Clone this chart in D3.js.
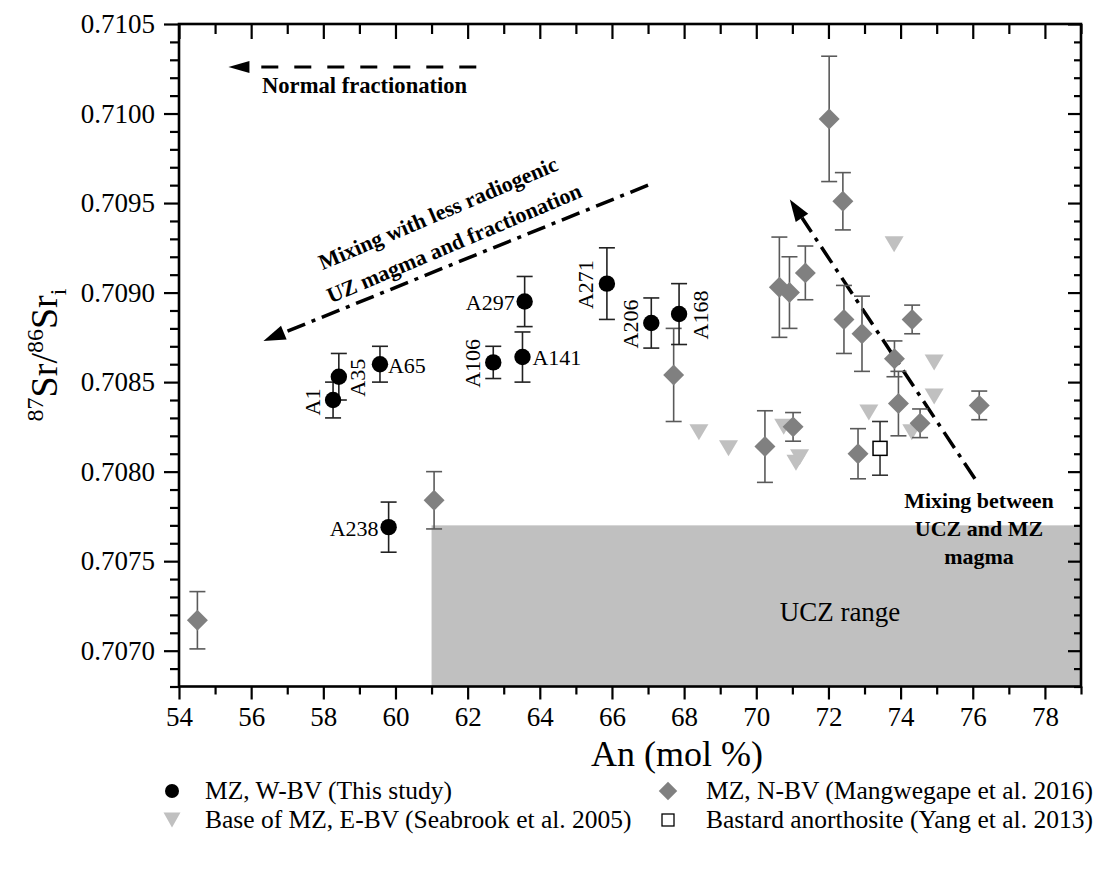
<!DOCTYPE html>
<html><head><meta charset="utf-8">
<script src="https://cdn.jsdelivr.net/npm/d3@7"></script>
<style>body{margin:0;background:#fff}svg{display:block}</style>
</head><body>
<svg id="chart" width="1105" height="876"></svg>
<script>
// ---------- data ----------
const wbvLabels = ["A1","A35","A65","A238","A106","A141","A297","A271","A206","A168"];
const wbvAn  = [58.27, 58.43, 59.57, 59.81, 62.71, 63.52, 63.58, 65.86, 67.09, 67.86];
const wbvSr  = [0.70840, 0.70853, 0.70860, 0.70769, 0.70861, 0.70864, 0.70895, 0.70905, 0.70883, 0.70888];
const wbvErr = [0.00010, 0.00013, 0.00010, 0.00014, 0.00009, 0.00014, 0.00014, 0.00020, 0.00014, 0.00017];

const nbvAn  = [54.51, 61.07, 67.71, 70.24, 70.64, 70.92, 71.02, 71.36, 72.02, 72.40, 72.43, 72.82, 72.93, 73.83, 73.94, 74.32, 74.54, 76.18];
const nbvSr  = [0.70717, 0.70784, 0.70854, 0.70814, 0.70903, 0.70900, 0.70825, 0.70911, 0.70997, 0.70951, 0.70885, 0.70810, 0.70877, 0.70863, 0.70838, 0.70885, 0.70827, 0.70837];
const nbvErr = [0.00016, 0.00016, 0.00026, 0.00020, 0.00028, 0.00020, 0.00008, 0.00015, 0.00035, 0.00016, 0.00019, 0.00014, 0.00021, 0.00010, 0.00018, 0.00008, 0.00008, 0.00008];

const ebvAn = [68.41, 69.23, 70.76, 71.10, 71.20, 73.12, 73.82, 74.31, 74.93, 74.93];
const ebvSr = [0.70822, 0.70813, 0.70825, 0.70805, 0.70808, 0.70833, 0.70927, 0.70822, 0.70861, 0.70842];

const bastAn  = [73.43];
const bastSr  = [0.70813];
const bastErr = [0.00015];

const uczRange = {anMin: 61, anMax: 79, srMax: 0.7077};

const xTicks = [54,56,58,60,62,64,66,68,70,72,74,76,78];
const xMinor = [55,57,59,61,63,65,67,69,71,73,75,77,79];
const yTicks = [0.7070,0.7075,0.7080,0.7085,0.7090,0.7095,0.7100,0.7105];
const yMinor = [0.7068,0.7069,0.7071,0.7072,0.7073,0.7074,0.7076,0.7077,0.7078,0.7079,0.7081,0.7082,0.7083,0.7084,0.7086,0.7087,0.7088,0.7089,0.7091,0.7092,0.7093,0.7094,0.7096,0.7097,0.7098,0.7099,0.7101,0.7102,0.7103,0.7104];

const legendLabels = ["MZ, W-BV (This study)","MZ, N-BV (Mangwegape et al. 2016)","Base of MZ, E-BV (Seabrook et al. 2005)","Bastard anorthosite (Yang et al. 2013)"];

// ---------- layout ----------
const FONT = "'Liberation Serif','Times New Roman',serif";
const L = 179, R = 1081, T = 24, B = 686.5;
const svg = d3.select("#chart");
const x = d3.scaleLinear().domain([54,79]).range([L,R]);
const y = d3.scaleLinear().domain([0.7068,0.7105]).range([B,T]);

// UCZ range
svg.append("rect")
  .attr("x", x(uczRange.anMin)).attr("y", y(uczRange.srMax))
  .attr("width", x(uczRange.anMax)-x(uczRange.anMin))
  .attr("height", y(0.7068)-y(uczRange.srMax))
  .attr("fill", "#c0c0c0");
svg.append("text").attr("x", 840).attr("y", 621).attr("text-anchor","middle")
  .attr("font-family", FONT).attr("font-size", 27).text("UCZ range");

// axes
function styleAxis(g){ g.select(".domain").remove(); g.selectAll("line").attr("stroke","#000").attr("stroke-width",2.2); }
svg.append("g").attr("transform",`translate(${L},0)`)
  .call(d3.axisLeft(y).tickValues(yTicks).tickFormat(d3.format(".4f")).tickSize(15).tickPadding(9))
  .call(styleAxis).selectAll("text").attr("font-family",FONT).attr("font-size",27).attr("fill","#000");
svg.append("g").attr("transform",`translate(${L},0)`)
  .call(d3.axisLeft(y).tickValues(yMinor).tickFormat("").tickSize(9)).call(styleAxis);
svg.append("g").attr("transform",`translate(${R},0)`)
  .call(d3.axisRight(y).tickValues(yTicks).tickFormat("").tickSize(-13)).call(styleAxis);
svg.append("g").attr("transform",`translate(${R},0)`)
  .call(d3.axisRight(y).tickValues(yMinor).tickFormat("").tickSize(-7)).call(styleAxis);
svg.append("g").attr("transform",`translate(0,${B})`)
  .call(d3.axisBottom(x).tickValues(xTicks).tickFormat(d3.format("d")).tickSize(13).tickPadding(7))
  .call(styleAxis).selectAll("text").attr("font-family",FONT).attr("font-size",27).attr("fill","#000");
svg.append("g").attr("transform",`translate(0,${B})`)
  .call(d3.axisBottom(x).tickValues(xMinor).tickFormat("").tickSize(8)).call(styleAxis);
svg.append("g").attr("transform",`translate(0,${T})`)
  .call(d3.axisTop(x).tickValues(xTicks).tickFormat("").tickSize(-15)).call(styleAxis);
svg.append("g").attr("transform",`translate(0,${T})`)
  .call(d3.axisTop(x).tickValues(xMinor).tickFormat("").tickSize(-10)).call(styleAxis);
svg.append("rect").attr("x",L).attr("y",T).attr("width",R-L).attr("height",B-T)
  .attr("fill","none").attr("stroke","#000").attr("stroke-width",2.6);

// axis titles
svg.append("text").attr("x",677).attr("y",766).attr("text-anchor","middle")
  .attr("font-family",FONT).attr("font-size",36).text("An (mol %)");
const yl = svg.append("text").attr("transform","translate(57,355) rotate(-90)")
  .attr("text-anchor","middle").attr("font-family",FONT).attr("font-size",38);
yl.append("tspan").attr("font-size",24).attr("dy",-14).text("87");
yl.append("tspan").attr("dy",14).text("Sr/");
yl.append("tspan").attr("font-size",24).attr("dy",-14).text("86");
yl.append("tspan").attr("dy",14).text("Sr");
yl.append("tspan").attr("font-size",24).attr("dy",9).text("i");

// ---------- annotations ----------
function arrow(x1,y1,x2,y2,dash,len,wid,sw){
  const dx=x2-x1, dy=y2-y1, d=Math.hypot(dx,dy), ux=dx/d, uy=dy/d;
  const bx=x2-ux*len, by=y2-uy*len;
  svg.append("line").attr("x1",x1).attr("y1",y1).attr("x2",bx).attr("y2",by)
    .attr("stroke","#000").attr("stroke-width",sw).attr("stroke-dasharray",dash);
  svg.append("path").attr("d",`M${x2},${y2}L${bx-uy*wid/2},${by+ux*wid/2}L${bx+uy*wid/2},${by-ux*wid/2}Z`).attr("fill","#000");
}
arrow(x(62.24), y(0.71026), x(55.37), y(0.71026), "17,16", 21, 12, 3);
svg.append("text").attr("x",262).attr("y",93).attr("font-family",FONT).attr("font-weight","bold")
  .attr("font-size",22.6).text("Normal fractionation");

arrow(x(67.0), y(0.70960), x(56.34), y(0.70873), "19,7,4,7", 22, 15, 3.5);
svg.append("text").attr("transform","translate(441,220) rotate(-23)").attr("text-anchor","middle")
  .attr("font-family",FONT).attr("font-weight","bold").attr("font-size",22).text("Mixing with less radiogenic");
svg.append("text").attr("transform","translate(457,250) rotate(-23)").attr("text-anchor","middle")
  .attr("font-family",FONT).attr("font-weight","bold").attr("font-size",22).text("UZ magma and fractionation");

arrow(x(76.06), y(0.70796), x(70.93), y(0.70952), "19,7,4,7", 22, 15, 3.5);
[["Mixing between",508],["UCZ and MZ",536],["magma",564]].forEach(([t,yy])=>{
  svg.append("text").attr("x",979).attr("y",yy).attr("text-anchor","middle")
    .attr("font-family",FONT).attr("font-weight","bold").attr("font-size",22).text(t);
});

// ---------- data marks ----------
function errBars(an, sr, err, color){
  const g = svg.append("g").attr("stroke",color).attr("stroke-width",1.6);
  an.forEach((a,i)=>{
    const cx=x(a), y1=y(sr[i]+err[i]), y2=y(sr[i]-err[i]);
    g.append("line").attr("x1",cx).attr("x2",cx).attr("y1",y1).attr("y2",y2);
    g.append("line").attr("x1",cx-8).attr("x2",cx+8).attr("y1",y1).attr("y2",y1);
    g.append("line").attr("x1",cx-8).attr("x2",cx+8).attr("y1",y2).attr("y2",y2);
  });
}
const triPath = (w,h)=>`M${-w/2},${-h/2}L${w/2},${-h/2}L0,${h/2}Z`;

// triangles (E-BV)
svg.append("g").selectAll("path").data(ebvAn).join("path")
  .attr("transform",(d,i)=>`translate(${x(d)},${y(ebvSr[i])})`)
  .attr("d",triPath(19,16)).attr("fill","#c0c0c0");

// diamonds (N-BV)
errBars(nbvAn, nbvSr, nbvErr, "#5a5a5a");
svg.append("g").selectAll("path").data(nbvAn).join("path")
  .attr("transform",(d,i)=>`translate(${x(d)},${y(nbvSr[i])}) rotate(45)`)
  .attr("d",d3.symbol(d3.symbolSquare, 220)()).attr("fill","#808080");

// square
errBars(bastAn, bastSr, bastErr, "#333");
svg.append("g").selectAll("rect").data(bastAn).join("rect")
  .attr("x",d=>x(d)-7).attr("y",(d,i)=>y(bastSr[i])-7).attr("width",14).attr("height",14)
  .attr("fill","#fff").attr("stroke","#000").attr("stroke-width",1.5);

// circles (W-BV)
errBars(wbvAn, wbvSr, wbvErr, "#222");
svg.append("g").selectAll("circle").data(wbvAn).join("circle")
  .attr("cx",d=>x(d)).attr("cy",(d,i)=>y(wbvSr[i])).attr("r",8.2).attr("fill","#000");

// sample labels (dx, dy offsets in px, rotated or not, anchor)
const labelLayout = {
  A1:[-13,2,true,"middle"], A35:[26,1,true,"middle"], A65:[8,9,false,"start"],
  A238:[-10,9,false,"end"], A106:[-13,1,true,"middle"], A141:[10,8,false,"start"],
  A297:[-10,8,false,"end"], A271:[-14,1,true,"middle"], A206:[-13,1,true,"middle"],
  A168:[29,1,true,"middle"]
};
wbvLabels.forEach((lab,i)=>{
  const [dx,dy,rot,anc] = labelLayout[lab];
  const px = x(wbvAn[i])+dx, py = y(wbvSr[i])+dy;
  svg.append("text").attr("transform",`translate(${px},${py})${rot?" rotate(-90)":""}`)
    .attr("text-anchor",anc).attr("font-family",FONT).attr("font-size",22).text(lab);
});

// ---------- legend ----------
const lg = svg.append("g").attr("font-family",FONT).attr("font-size",25.5);
const rows = [791, 820], cols = [[172,205],[668,706]];
lg.append("circle").attr("cx",cols[0][0]).attr("cy",rows[0]).attr("r",7).attr("fill","#000");
lg.append("path").attr("transform",`translate(${cols[1][0]},${rows[0]}) rotate(45)`)
  .attr("d",d3.symbol(d3.symbolSquare,170)()).attr("fill","#808080");
lg.append("path").attr("transform",`translate(${cols[0][0]},${rows[1]})`).attr("d",triPath(17,15)).attr("fill","#c0c0c0");
lg.append("rect").attr("x",cols[1][0]-6).attr("y",rows[1]-6).attr("width",12).attr("height",12)
  .attr("fill","#fff").attr("stroke","#000").attr("stroke-width",1.3);
legendLabels.forEach((t,i)=>{
  lg.append("text").attr("x",cols[i%2][1]).attr("y",rows[Math.floor(i/2)]+8).text(t);
});
</script>
</body></html>
